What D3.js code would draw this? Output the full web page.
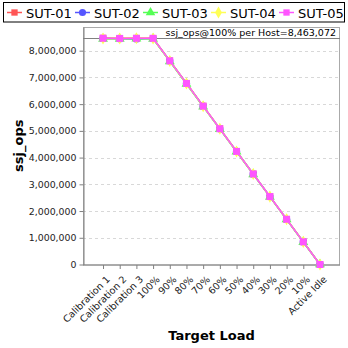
<!DOCTYPE html>
<html>
<head>
<meta charset="utf-8">
<script src="https://cdn.jsdelivr.net/npm/d3@7/dist/d3.min.js"></script>
<style>
  html, body { margin: 0; padding: 0; background: #fff; }
  svg { display: block; font-family: "DejaVu Sans", sans-serif; }
</style>
</head>
<body>
<svg id="chart" width="348" height="348"></svg>
<script>
// Target load levels along the x axis
const categories = ["Calibration 1", "Calibration 2", "Calibration 3", "100%", "90%", "80%", "70%",
  "60%", "50%", "40%", "30%", "20%", "10%", "Active Idle"];

// ssj_ops per host for each system under test
const sut01 = [8475000, 8462000, 8470000, 8463072, 7625000, 6780000, 5930000, 5085000, 4235000, 3390000, 2545000, 1695000, 850000, 0];
const sut02 = [8460000, 8450000, 8440000, 8455000, 7615000, 6770000, 5920000, 5075000, 4230000, 3385000, 2540000, 1690000, 845000, 0];
const sut03 = [8440000, 8445000, 8450000, 8445000, 7600000, 6755000, 5905000, 5065000, 4220000, 3375000, 2530000, 1685000, 840000, 0];
const sut04 = [8455000, 8458000, 8462000, 8458000, 7615000, 6770000, 5920000, 5078000, 4230000, 3385000, 2540000, 1692000, 846000, 0];
const sut05 = [8465000, 8460000, 8463000, 8463072, 7620000, 6775000, 5925000, 5080000, 4232000, 3388000, 2542000, 1693000, 848000, 0];

const seriesNames = ["SUT-01", "SUT-02", "SUT-03", "SUT-04", "SUT-05"];
const seriesValues = [sut01, sut02, sut03, sut04, sut05];
const seriesColors = ["#ff5555", "#5555ff", "#55ff55", "#ffff55", "#ff55ff"];
const seriesShapes = [d3.symbolSquare, d3.symbolCircle, d3.symbolTriangle, d3.symbolDiamond, d3.symbolSquare];

const yTicks = [0, 1000000, 2000000, 3000000, 4000000, 5000000, 6000000, 7000000, 8000000];
const referenceValue = 8463072;
const referenceLabel = "ssj_ops@100% per Host=8,463,072";

const svg = d3.select("#chart");
const plot = { left: 83, right: 340, top: 27, bottom: 264.5 };

const x = d3.scalePoint().domain(categories).range([plot.left, plot.right]).padding(1.2);
const y = d3.scaleLinear().domain([0, referenceValue * 1.05]).range([plot.bottom, plot.top]);

// Horizontal gridlines
svg.append("g")
  .selectAll("line")
  .data(yTicks.filter(d => d > 0))
  .join("line")
  .attr("x1", plot.left).attr("x2", plot.right)
  .attr("y1", d => Math.round(y(d)) + 0.5).attr("y2", d => Math.round(y(d)) + 0.5)
  .attr("stroke", "#d8d8d8").attr("stroke-dasharray", "3,3");

// Plot frame
svg.append("rect")
  .attr("x", plot.left + 0.5).attr("y", plot.top + 0.5)
  .attr("width", plot.right - plot.left - 1).attr("height", plot.bottom - plot.top)
  .attr("fill", "none").attr("stroke", "#aaaaaa");

// Reference line at 100% load
svg.append("line")
  .attr("x1", plot.left).attr("x2", plot.right)
  .attr("y1", Math.round(y(referenceValue)) + 0.5).attr("y2", Math.round(y(referenceValue)) + 0.5)
  .attr("stroke", "#808080").attr("stroke-width", 1.2);

svg.append("text")
  .attr("x", plot.right - 4).attr("y", Math.round(y(referenceValue)) - 2.5)
  .attr("text-anchor", "end").attr("font-size", 9.5).attr("fill", "#000")
  .text(referenceLabel);

// Y axis
const yAxis = svg.append("g")
  .attr("transform", `translate(${plot.left + 0.5},0)`)
  .call(d3.axisLeft(y).tickValues(yTicks).tickSize(4).tickSizeOuter(0).tickFormat(d3.format(",")));
yAxis.select(".domain").attr("stroke", "#808080");
yAxis.selectAll(".tick line").attr("stroke", "#808080");
yAxis.selectAll(".tick text").attr("font-size", 9.4).attr("font-family", "DejaVu Sans, sans-serif").attr("fill", "#222");

// X axis
const xAxis = svg.append("g")
  .attr("transform", `translate(0,${plot.bottom + 0.5})`)
  .call(d3.axisBottom(x).tickSize(4).tickSizeOuter(0));
xAxis.select(".domain").attr("stroke", "#808080").attr("d", `M${plot.left},0H${plot.right}`);
xAxis.selectAll(".tick line").attr("stroke", "#808080");
xAxis.selectAll(".tick text")
  .attr("font-size", 9.6).attr("font-family", "DejaVu Sans, sans-serif").attr("fill", "#222")
  .attr("text-anchor", "end").attr("dx", 0).attr("dy", 0)
  .attr("transform", "translate(2,10) rotate(-45)");

// Axis titles
svg.append("text")
  .attr("transform", `translate(23,${(plot.top + plot.bottom) / 2}) rotate(-90)`)
  .attr("text-anchor", "middle").attr("font-size", 13).attr("font-weight", "bold")
  .text("ssj_ops");
svg.append("text")
  .attr("x", (plot.left + plot.right) / 2).attr("y", 340)
  .attr("text-anchor", "middle").attr("font-size", 13).attr("font-weight", "bold")
  .text("Target Load");

// Series lines and markers
const line = d3.line().x((d, i) => x(categories[i])).y(d => y(d));
seriesValues.forEach((vals, s) => {
  const g = svg.append("g");
  g.append("path").datum(vals)
    .attr("d", line).attr("fill", "none")
    .attr("stroke", seriesColors[s]).attr("stroke-width", 1.5);
  g.selectAll("path.m").data(vals).join("path")
    .attr("class", "m")
    .attr("transform", (d, i) => `translate(${x(categories[i])},${y(d)})`)
    .attr("d", d3.symbol().type(seriesShapes[s]).size(s === 4 ? 49 : 42))
    .attr("fill", seriesColors[s]);
});

// Legend
const legend = svg.append("g");
legend.append("rect")
  .attr("x", 3.5).attr("y", 2.5).attr("width", 341).attr("height", 19.5)
  .attr("fill", "#fff").attr("stroke", "#000");
seriesNames.forEach((name, s) => {
  const lx = 7 + s * 68;
  const item = legend.append("g").attr("transform", `translate(${lx},12.5)`);
  item.append("line").attr("x1", 0).attr("x2", 15).attr("stroke", seriesColors[s]).attr("stroke-width", 1.5);
  item.append("path").attr("transform", "translate(7.5,0)")
    .attr("d", d3.symbol().type(seriesShapes[s]).size(40)).attr("fill", seriesColors[s]);
  item.append("text").attr("x", 19).attr("y", 5)
    .attr("font-size", 13).attr("fill", "#000").text(name);
});
</script>
</body>
</html>
